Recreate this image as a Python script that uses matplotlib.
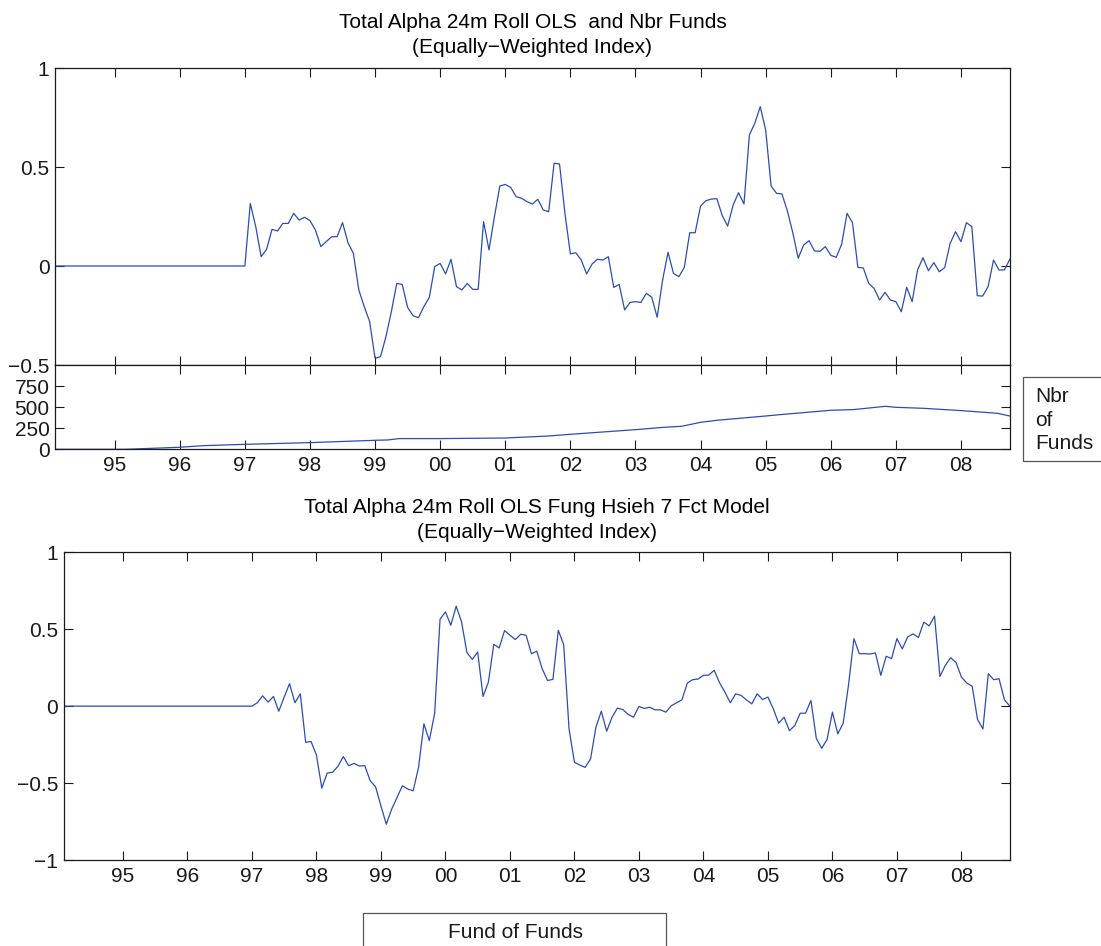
import numpy as np
import matplotlib
matplotlib.use("Agg")
import matplotlib.pyplot as plt
from matplotlib.patches import Rectangle

plt.rcParams['font.family'] = ['Liberation Sans', 'DejaVu Sans']

# monthly observations, Jan 1994 .. Sep 2008 (decimal years, month end)
n_months = 177
months = 1994 + (np.arange(n_months) + 1) / 12.0

# Total alpha, 24m rolling OLS (zero until the first full window, Dec 1996)
alpha_ols = [0.0] * 36 + [
    0.316, 0.199, 0.047, 0.084, 0.185, 0.177, 0.215, 0.215, 0.266, 0.232, 0.246, 0.229,
    0.182, 0.098, 0.123, 0.148, 0.148, 0.219, 0.118, 0.064, -0.121, -0.205, -0.281, -0.466,
    -0.458, -0.357, -0.231, -0.088, -0.093, -0.209, -0.251, -0.261, -0.205, -0.158, -0.003, 0.013,
    -0.040, 0.034, -0.104, -0.121, -0.088, -0.118, -0.118, 0.224, 0.081, 0.249, 0.404, 0.412,
    0.397, 0.350, 0.342, 0.325, 0.313, 0.337, 0.283, 0.274, 0.519, 0.515, 0.266, 0.061,
    0.067, 0.030, -0.040, 0.010, 0.034, 0.030, 0.047, -0.108, -0.093, -0.222, -0.184, -0.180,
    -0.184, -0.138, -0.158, -0.259, -0.071, 0.069, -0.037, -0.054, -0.007, 0.168, 0.168, 0.303,
    0.330, 0.338, 0.340, 0.254, 0.202, 0.308, 0.370, 0.313, 0.662, 0.721, 0.805, 0.687,
    0.404, 0.367, 0.364, 0.278, 0.168, 0.039, 0.106, 0.128, 0.076, 0.074, 0.098, 0.054,
    0.044, 0.109, 0.266, 0.219, -0.007, -0.010, -0.088, -0.114, -0.172, -0.133, -0.172, -0.180,
    -0.231, -0.108, -0.180, -0.020, 0.042, -0.024, 0.017, -0.029, -0.008, 0.114, 0.173, 0.123,
    0.219, 0.199, -0.150, -0.152, -0.104, 0.030, -0.020, -0.020, 0.034,
]

# Total alpha, 24m rolling OLS on the Fung-Hsieh 7 factor model
alpha_fh7 = [0.0] * 36 + [
    0.022, 0.067, 0.026, 0.063, -0.033, 0.059, 0.146, 0.022, 0.080, -0.235, -0.230, -0.317,
    -0.533, -0.435, -0.430, -0.391, -0.328, -0.387, -0.372, -0.389, -0.387, -0.485, -0.524, -0.648,
    -0.767, -0.670, -0.593, -0.517, -0.539, -0.550, -0.398, -0.115, -0.224, -0.046, 0.565, 0.613,
    0.526, 0.650, 0.548, 0.348, 0.304, 0.352, 0.063, 0.157, 0.402, 0.378, 0.491, 0.461,
    0.433, 0.467, 0.461, 0.341, 0.357, 0.243, 0.167, 0.174, 0.493, 0.400, -0.148, -0.365,
    -0.383, -0.398, -0.343, -0.137, -0.033, -0.163, -0.072, -0.013, -0.022, -0.054, -0.072, -0.002,
    -0.015, -0.007, -0.024, -0.024, -0.039, 0.002, 0.022, 0.041, 0.150, 0.172, 0.176, 0.200,
    0.202, 0.233, 0.152, 0.091, 0.022, 0.080, 0.070, 0.041, 0.015, 0.080, 0.043, 0.059,
    -0.017, -0.111, -0.072, -0.159, -0.126, -0.046, -0.046, 0.037, -0.209, -0.274, -0.217, -0.039,
    -0.180, -0.111, 0.139, 0.439, 0.341, 0.341, 0.339, 0.346, 0.200, 0.324, 0.309, 0.439,
    0.372, 0.450, 0.470, 0.446, 0.546, 0.522, 0.585, 0.193, 0.265, 0.315, 0.283, 0.189,
    0.150, 0.130, -0.087, -0.148, 0.211, 0.172, 0.178, 0.041, 0.000,
]

# number of funds in the index (read at a handful of dates)
nbr_dates = [1994.083, 1995.17, 1996.0, 1996.36, 1997.0, 1998.0, 1999.0, 1999.20, 1999.37,
             2000.0, 2001.0, 2001.67, 2002.0, 2003.0, 2003.44, 2003.71, 2004.0, 2004.25,
             2005.0, 2005.22, 2006.0, 2006.35, 2006.84, 2007.0, 2007.43, 2008.0, 2008.56, 2008.75]
nbr_funds = [0, 0, 24, 43, 59, 79, 107, 111, 127,
             127, 134, 158, 178, 233, 261, 273, 320, 344,
             395, 411, 463, 471, 510, 498, 486, 459, 427, 395]

year_ticks = list(range(1995, 2009))
year_labels = ['%02d' % (y % 100) for y in year_ticks]

line_color = '#2b4db3'
fs = 15

W, H = 1101, 946
fig = plt.figure(figsize=(W / 100, H / 100), dpi=100)


def px_axes(x0, y0, x1, y1):
    # axes from pixel box (top-left origin)
    return fig.add_axes([x0 / W, 1 - y1 / H, (x1 - x0) / W, (y1 - y0) / H])


def style(ax):
    ax.tick_params(direction='in', length=6.5, width=0.8, top=True, right=True,
                   labelsize=fs, colors='#1a1a1a')
    ax.tick_params(axis='x', pad=5)
    ax.tick_params(axis='y', pad=4)
    for s in ax.spines.values():
        s.set_linewidth(0.9)
        s.set_color('#1a1a1a')


x_lo, x_hi = months[0], months[-1]

# top: alpha OLS
ax1 = px_axes(55, 68, 1009.8, 365)
ax1.plot(months, alpha_ols, color=line_color, lw=0.9)
ax1.set_xlim(x_lo, x_hi)
ax1.set_ylim(-0.5, 1)
ax1.set_yticks([-0.5, 0, 0.5, 1])
ax1.set_yticklabels(['\u22120.5', '0', '0.5', '1'])
ax1.set_xticks(year_ticks)
ax1.set_xticklabels([])
style(ax1)
ax1.set_title('Total Alpha 24m Roll OLS  and Nbr Funds\n(Equally\u2212Weighted Index)',
              fontsize=fs, pad=11, linespacing=1.4)

# middle: number of funds
ax2 = px_axes(55, 365, 1009.8, 449.3)
ax2.plot(nbr_dates, nbr_funds, color=line_color, lw=0.9)
ax2.set_xlim(x_lo, x_hi)
ax2.set_ylim(0, 1000)
ax2.set_yticks([0, 250, 500, 750])
ax2.set_yticklabels(['0', '250', '500', '750'])
ax2.set_xticks(year_ticks)
ax2.set_xticklabels(year_labels)
style(ax2)

# bottom: alpha Fung Hsieh 7 factor
ax3 = px_axes(63.8, 552.3, 1009.8, 860)
ax3.plot(months, alpha_fh7, color=line_color, lw=0.9)
ax3.set_xlim(x_lo, x_hi)
ax3.set_ylim(-1, 1)
ax3.set_yticks([-1, -0.5, 0, 0.5, 1])
ax3.set_yticklabels(['\u22121', '\u22120.5', '0', '0.5', '1'])
ax3.set_xticks(year_ticks)
ax3.set_xticklabels(year_labels)
style(ax3)
ax3.set_title('Total Alpha 24m Roll OLS Fung Hsieh 7 Fct Model\n(Equally\u2212Weighted Index)',
              fontsize=fs, pad=10.5, linespacing=1.35)

# legend boxes (both run off the figure edge as in the original)
box1 = Rectangle((1023.3 / W, 1 - 460.7 / H), 120 / W, 83.7 / H, transform=fig.transFigure,
                 fill=False, edgecolor='#555555', lw=0.9, clip_on=False)
fig.patches.append(box1)
fig.text(1035 / W, 1 - 420 / H, 'Nbr\nof\nFunds', fontsize=fs, va='center', ha='left',
         linespacing=1.3, color='#1a1a1a')

box2 = Rectangle((363.3 / W, 1 - 960 / H), 302.4 / W, 46.7 / H, transform=fig.transFigure,
                 fill=False, edgecolor='#555555', lw=0.9, clip_on=False)
fig.patches.append(box2)
fig.text(515 / W, 1 - 932 / H, 'Fund of Funds', fontsize=fs, va='center', ha='center',
         color='#1a1a1a')

fig.savefig('out.png', dpi=100)
